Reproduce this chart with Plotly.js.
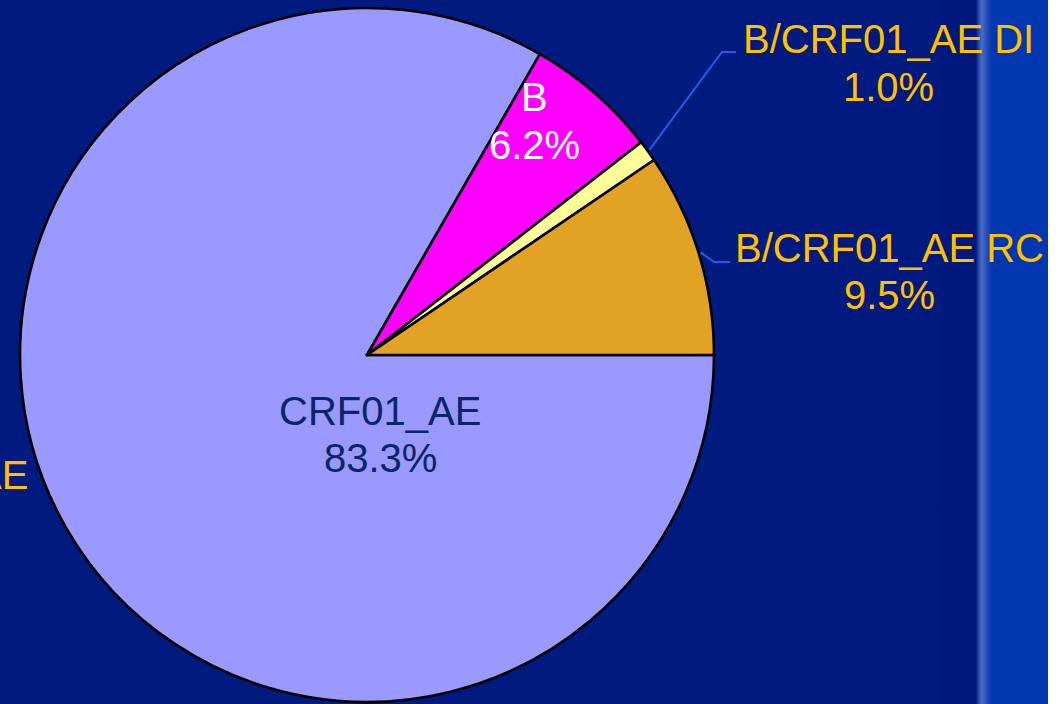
<!DOCTYPE html>
<html>
<head>
<meta charset="utf-8">
<script src="https://cdn.plot.ly/plotly-3.0.1.min.js"></script>
<style>
  html, body { margin: 0; padding: 0; background: #ffffff; }
  #chart {
    width: 1048px; height: 704px;
    background: linear-gradient(to right,
      #011a80 0px, #011a80 930px, #00177a 976px,
      #2a4cb0 979px, #4a6cc4 982px, #2a50bc 986px,
      #0036b0 992px, #0038b2 1048px);
  }
</style>
</head>
<body>
<div id="chart"></div>
<script>
// ---- data ----
const labels = ["B/CRF01_AE RC", "B/CRF01_AE DI", "B", "CRF01_AE"];
const values = [9.5, 1.0, 6.2, 83.3];
const colors = ["#e2a224", "#ffff99", "#ff00ff", "#9999ff"];
const textColors = ["#ffc000", "#ffc000", "#ffffff", "#0b2566"];

const W = 1048, H = 704;
const cx = 367, cy = 355, R = 347;

// slices run counter-clockwise from 3 o'clock; plotly draws clockwise from
// the rotation angle, so feed the series in reverse order
const pie = {
  type: "pie",
  labels: labels.slice().reverse(),
  values: values.slice().reverse(),
  sort: false,
  direction: "clockwise",
  rotation: 90,
  textinfo: "none",
  hoverinfo: "label+percent",
  marker: { colors: colors.slice().reverse(), line: { color: "#000000", width: 2.6 } },
  domain: { x: [(cx - R) / W, (cx + R) / W], y: [(H - cy - R) / H, (H - cy + R) / H] },
  showlegend: false
};

const total = values.reduce((a, b) => a + b, 0);
function midAngle(i) {
  let before = 0;
  for (let k = 0; k < i; k++) before += values[k];
  return (before + values[i] / 2) / total * 2 * Math.PI;
}
function pct(i) { return (values[i] / total * 100).toFixed(1) + "%"; }

// label positions (pixel layout positions)
const labelPos = [
  { x: 889, y1: 248, y2: 295 },   // RC (outside)
  { x: 888, y1: 39, y2: 87 },     // DI (outside)
  { x: 534, y1: 97, y2: 145 },    // B (inside)
  { x: 380, y1: 411, y2: 458 }    // CRF01_AE (inside)
];
const fontFam = "Liberation Sans, Arial, sans-serif";
const FS = 40;

const annotations = [];
labels.forEach((lab, i) => {
  const p = labelPos[i];
  [[lab, p.y1], [pct(i), p.y2]].forEach(([t, y]) => {
    annotations.push({
      text: t, xref: "paper", yref: "paper",
      x: p.x / W, y: 1 - y / H, xanchor: "center", yanchor: "middle",
      showarrow: false,
      font: { family: fontFam, size: FS, color: textColors[i] }
    });
  });
});
// clipped fragment of a neighbouring label at the left edge
annotations.push({
  text: labels[3], xref: "paper", yref: "paper",
  x: 30 / W, y: 1 - 475 / H, xanchor: "right", yanchor: "middle",
  showarrow: false, font: { family: fontFam, size: FS, color: "#ffc000" }
});

// leader lines for outside labels, starting at slice mid-angle on the rim
const elbows = [
  { ex: 714, ey: 262, hx: 730 },  // RC
  { ex: 722, ey: 52, hx: 736 }    // DI
];
const shapes = [];
[0, 1].forEach((i, k) => {
  const a = midAngle(i);
  const sx = cx + (R + 2) * Math.cos(a);
  const sy = cy - (R + 2) * Math.sin(a);
  const e = elbows[k];
  const path = `M ${sx / W} ${1 - sy / H} L ${e.ex / W} ${1 - e.ey / H} L ${e.hx / W} ${1 - e.ey / H}`;
  shapes.push({
    type: "path", xref: "paper", yref: "paper", path: path,
    line: { color: "#1a62e0", width: 2 }
  });
});

const layout = {
  width: W, height: H,
  margin: { l: 0, r: 0, t: 0, b: 0, pad: 0 },
  paper_bgcolor: "rgba(0,0,0,0)",
  plot_bgcolor: "rgba(0,0,0,0)",
  annotations: annotations,
  shapes: shapes,
  showlegend: false
};

Plotly.newPlot("chart", [pie], layout, { displayModeBar: false, staticPlot: true });
</script>
</body>
</html>
